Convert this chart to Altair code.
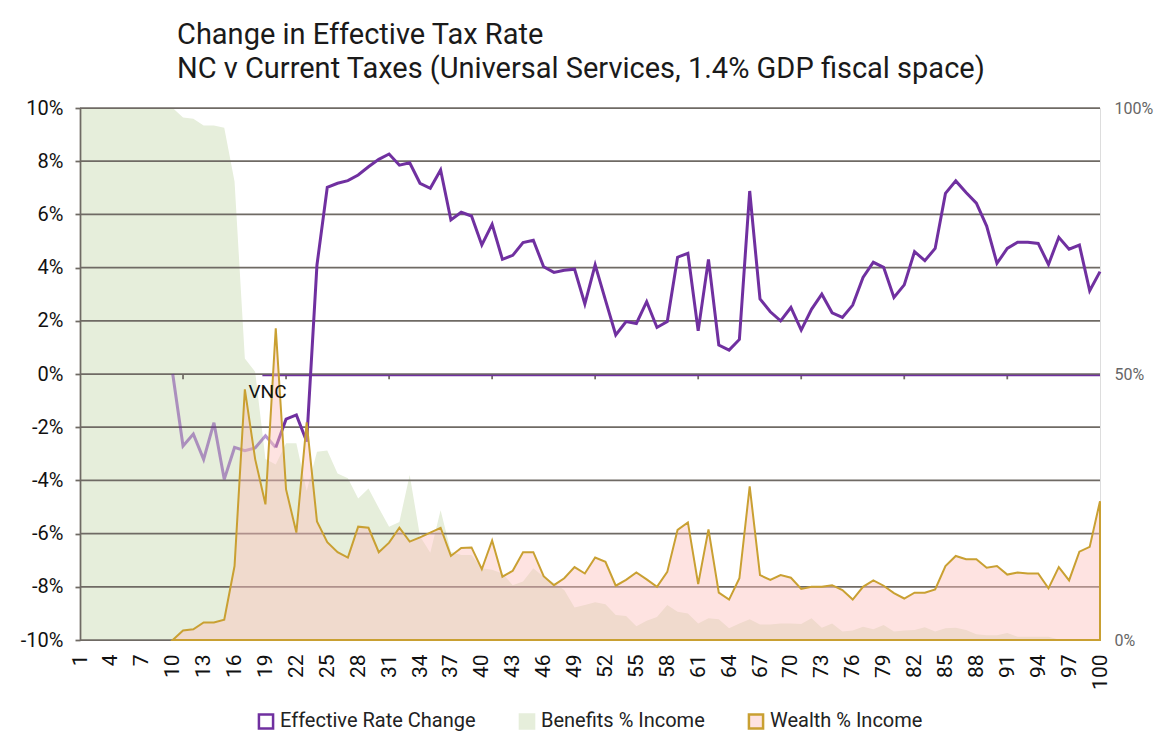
import altair as alt
import pandas as pd

FONT = "Roboto"

cats = list(range(1, 101))

effective = [None] * 9 + [
    0.00, -2.71, -2.26, -3.21, -1.83, -3.96, -2.76, -2.88, -2.78, -2.32, -2.76,
    -1.70, -1.54, -2.54, 4.10, 7.02, 7.17, 7.27, 7.48, 7.79, 8.07,
    8.27, 7.85, 7.94, 7.17, 6.98, 7.67, 5.79, 6.08, 5.94, 4.85,
    5.63, 4.31, 4.46, 4.94, 5.03, 4.03, 3.82, 3.90, 3.94, 2.63,
    4.10, 2.78, 1.47, 1.97, 1.90, 2.72, 1.75, 1.97, 4.39, 4.54,
    1.62, 4.31, 1.09, 0.90, 1.30, 6.88, 2.82, 2.34, 2.00, 2.50,
    1.65, 2.43, 3.00, 2.30, 2.13, 2.59, 3.63, 4.20, 4.01, 2.88,
    3.35, 4.60, 4.26, 4.72, 6.79, 7.26, 6.82, 6.42, 5.56, 4.16,
    4.72, 4.95, 4.95, 4.91, 4.12, 5.14, 4.69, 4.85, 3.13, 3.85,
]

wealth = [None] * 9 + [
    0.0, 1.8, 2.0, 3.3, 3.3, 3.8, 13.9, 47.1, 34.0, 25.5, 58.6,
    28.3, 20.2, 40.9, 22.3, 18.4, 16.5, 15.5, 21.3, 21.1, 16.5,
    18.3, 21.1, 18.5, 19.3, 20.2, 21.1, 15.8, 17.3, 17.4, 13.3,
    18.7, 11.9, 13.0, 16.5, 16.5, 12.0, 10.3, 11.6, 13.7, 12.5,
    15.5, 14.7, 10.2, 11.3, 12.7, 11.4, 10.0, 12.8, 20.7, 22.1,
    10.5, 20.8, 8.9, 7.6, 11.6, 28.9, 12.2, 11.3, 12.2, 11.7,
    9.6, 10.0, 10.0, 10.3, 9.4, 7.6, 10.0, 11.2, 10.2, 8.8,
    7.8, 8.9, 8.9, 9.5, 13.9, 15.8, 15.2, 15.2, 13.6, 13.9,
    12.3, 12.7, 12.5, 12.5, 9.7, 13.7, 11.2, 16.6, 17.5, 26.1,
]

benefits = [
    100, 100, 100, 100, 100, 100, 100, 100, 100, 100,
    98.2, 98.0, 96.7, 96.7, 96.3, 86.2, 52.9, 50.4, 34.0, 33.0,
    37.0, 37.0, 28.0, 35.4, 35.6, 31.3, 30.4, 26.6, 28.5, 24.8,
    21.3, 22.2, 31.0, 19.5, 16.4, 24.4, 16.6, 16.0, 16.0, 13.5,
    13.2, 12.5, 10.3, 11.0, 13.5, 11.9, 10.7, 9.4, 6.1, 6.6,
    7.1, 6.7, 4.7, 4.5, 2.6, 3.6, 4.3, 6.6, 5.3, 5.0,
    3.1, 4.1, 3.9, 2.2, 3.1, 3.9, 2.9, 2.9, 3.1, 3.1,
    3.0, 4.1, 2.3, 3.1, 1.6, 1.8, 2.5, 2.0, 2.8, 1.6,
    1.8, 1.9, 2.4, 1.6, 2.2, 2.3, 1.9, 1.1, 0.9, 0.9,
    1.3, 0.6, 0.6, 0.6, 0.6, 0.1, 0, 0, 0, 0,
]

series_names = ["Effective Rate Change", "Benefits % Income", "Wealth % Income"]
left_ticks = [-10, -8, -6, -4, -2, 0, 2, 4, 6, 8, 10]
right_ticks = [0, 50, 100]
x_labels = list(range(1, 101, 3))
zero_ticks = [11, 21, 31, 41, 51, 61, 71, 81, 91]
vnc_start, vnc_end = 10, 20
zero_line_start = 18.7

PURPLE = "#7030A0"
GREEN = "#E6EEDB"
GOLD = "#C9A032"
PINK_FILL = "rgba(253,193,189,0.45)"
GRID = "#6F6A64"

df = pd.DataFrame({"cat": cats, "eff": effective, "wealth": wealth, "benefits": benefits})
df_eff = df.dropna(subset=["eff"]).assign(series=series_names[0])
df_ben = df.assign(series=series_names[1])
df_wea = df.dropna(subset=["wealth"]).assign(series=series_names[2])

x_scale = alt.Scale(domain=[1, 100], nice=False, zero=False)
yl_scale = alt.Scale(domain=[-10, 10], nice=False, zero=False)
yr_scale = alt.Scale(domain=[0, 100], nice=False, zero=False)

fill_scale = alt.Scale(domain=series_names, range=["#FFFFFF", GREEN, PINK_FILL])
stroke_scale = alt.Scale(domain=series_names, range=[PURPLE, GREEN, GOLD])
legend = alt.Legend(
    title=None, orient="none", direction="horizontal", legendX=176, legendY=603,
    symbolType="square", symbolSize=200, symbolStrokeWidth=2.5,
    labelFont=FONT, labelFontSize=20, labelColor="#222222", columnPadding=38,
    labelOffset=4, labelLimit=400,
)

x_axis = alt.Axis(
    values=x_labels, labelAngle=-90, labelFontSize=21, labelFont=FONT, labelColor="#111111",
    domain=False, ticks=False, grid=False, labelPadding=14, labelFlush=False,
    labelOverlap=False, title=None,
)
left_axis = alt.Axis(
    orient="left", values=left_ticks, labelExpr="datum.value + '%'", grid=False,
    domain=True, domainColor=GRID, domainWidth=1.75, ticks=True, tickColor=GRID,
    tickSize=5, tickWidth=1.75, labelFontSize=20, labelFont=FONT, labelColor="#111111",
    labelPadding=12, title=None, zindex=1,
)
right_axis = alt.Axis(
    orient="right", values=right_ticks, labelExpr="datum.value + '%'", grid=False,
    domain=False, ticks=False, labelFontSize=16, labelFont=FONT, labelColor="#666666",
    labelPadding=14, title=None,
)


def X(field):
    return alt.X(field, scale=x_scale, axis=x_axis)


benefits_area = alt.Chart(df_ben).mark_area(interpolate="linear").encode(
    x=X("cat:Q"),
    y=alt.Y("benefits:Q", scale=yr_scale, axis=right_axis),
    fill=alt.Fill("series:N", scale=fill_scale, legend=legend),
)

grid = alt.Chart(pd.DataFrame({"v": left_ticks})).mark_rule(color=GRID, strokeWidth=1.75).encode(
    y=alt.Y("v:Q", scale=yl_scale, axis=left_axis),
)

ticks0 = alt.Chart(pd.DataFrame({"cat": zero_ticks})).mark_rule(color=GRID, strokeWidth=1.75).encode(
    x=X("cat:Q"),
    y=alt.Y("y0:Q", scale=yl_scale, axis=None),
    y2="y1:Q",
).transform_calculate(y0="0", y1="-0.2")

zero_line = alt.Chart(pd.DataFrame({"cat": [zero_line_start], "b": [100]})).mark_rule(
    color=PURPLE, strokeWidth=1.4, yOffset=1.5
).encode(
    x=X("cat:Q"),
    x2="b:Q",
    y=alt.Y("z:Q", scale=yl_scale, axis=None),
).transform_calculate(z="0")

vnc_line = alt.Chart(df_eff).transform_filter(
    f"datum.cat >= {vnc_start} && datum.cat <= {vnc_end}"
).mark_line(color=PURPLE, opacity=0.5, strokeWidth=3).encode(
    x=X("cat:Q"),
    y=alt.Y("eff:Q", scale=yl_scale, axis=None),
)

eff_line = alt.Chart(df_eff).transform_filter(
    f"datum.cat >= {vnc_end}"
).mark_line(strokeWidth=3).encode(
    x=X("cat:Q"),
    y=alt.Y("eff:Q", scale=yl_scale, axis=None),
    stroke=alt.Stroke("series:N", scale=stroke_scale, legend=legend),
)

wealth_area = alt.Chart(df_wea).mark_area(strokeWidth=2, interpolate="linear").encode(
    x=X("cat:Q"),
    y=alt.Y("wealth:Q", scale=yr_scale, axis=None),
    fill=alt.Fill("series:N", scale=fill_scale, legend=legend),
    stroke=alt.Stroke("series:N", scale=stroke_scale, legend=legend),
)

vnc_text = alt.Chart(pd.DataFrame({"cat": [19.2], "v": [-0.68], "t": ["VNC"]})).mark_text(
    font=FONT, fontSize=19, color="#111111", baseline="middle", align="center"
).encode(
    x=X("cat:Q"),
    y=alt.Y("v:Q", scale=yl_scale, axis=None),
    text="t:N",
)

chart = alt.layer(
    benefits_area, grid, ticks0, zero_line, vnc_line, eff_line, wealth_area, vnc_text
).resolve_scale(y="independent").properties(
    width=1020, height=532,
    autosize=alt.AutoSizeParams(type="none"),
    padding={"left": 80, "top": 108, "right": 70, "bottom": 112},
    title=alt.Title(
        ["Change in Effective Tax Rate",
         "NC v Current Taxes (Universal Services, 1.4% GDP fiscal space)"],
        anchor="start", frame="group", dx=97, fontSize=29, fontWeight="normal", font=FONT,
        color="#1a1a1a", lineHeight=34, offset=14,
    ),
).configure_view(fill="#F9F9F7", stroke=None).configure(background="white")

chart.save("out.html", embed_options={"renderer": "svg", "actions": False})
